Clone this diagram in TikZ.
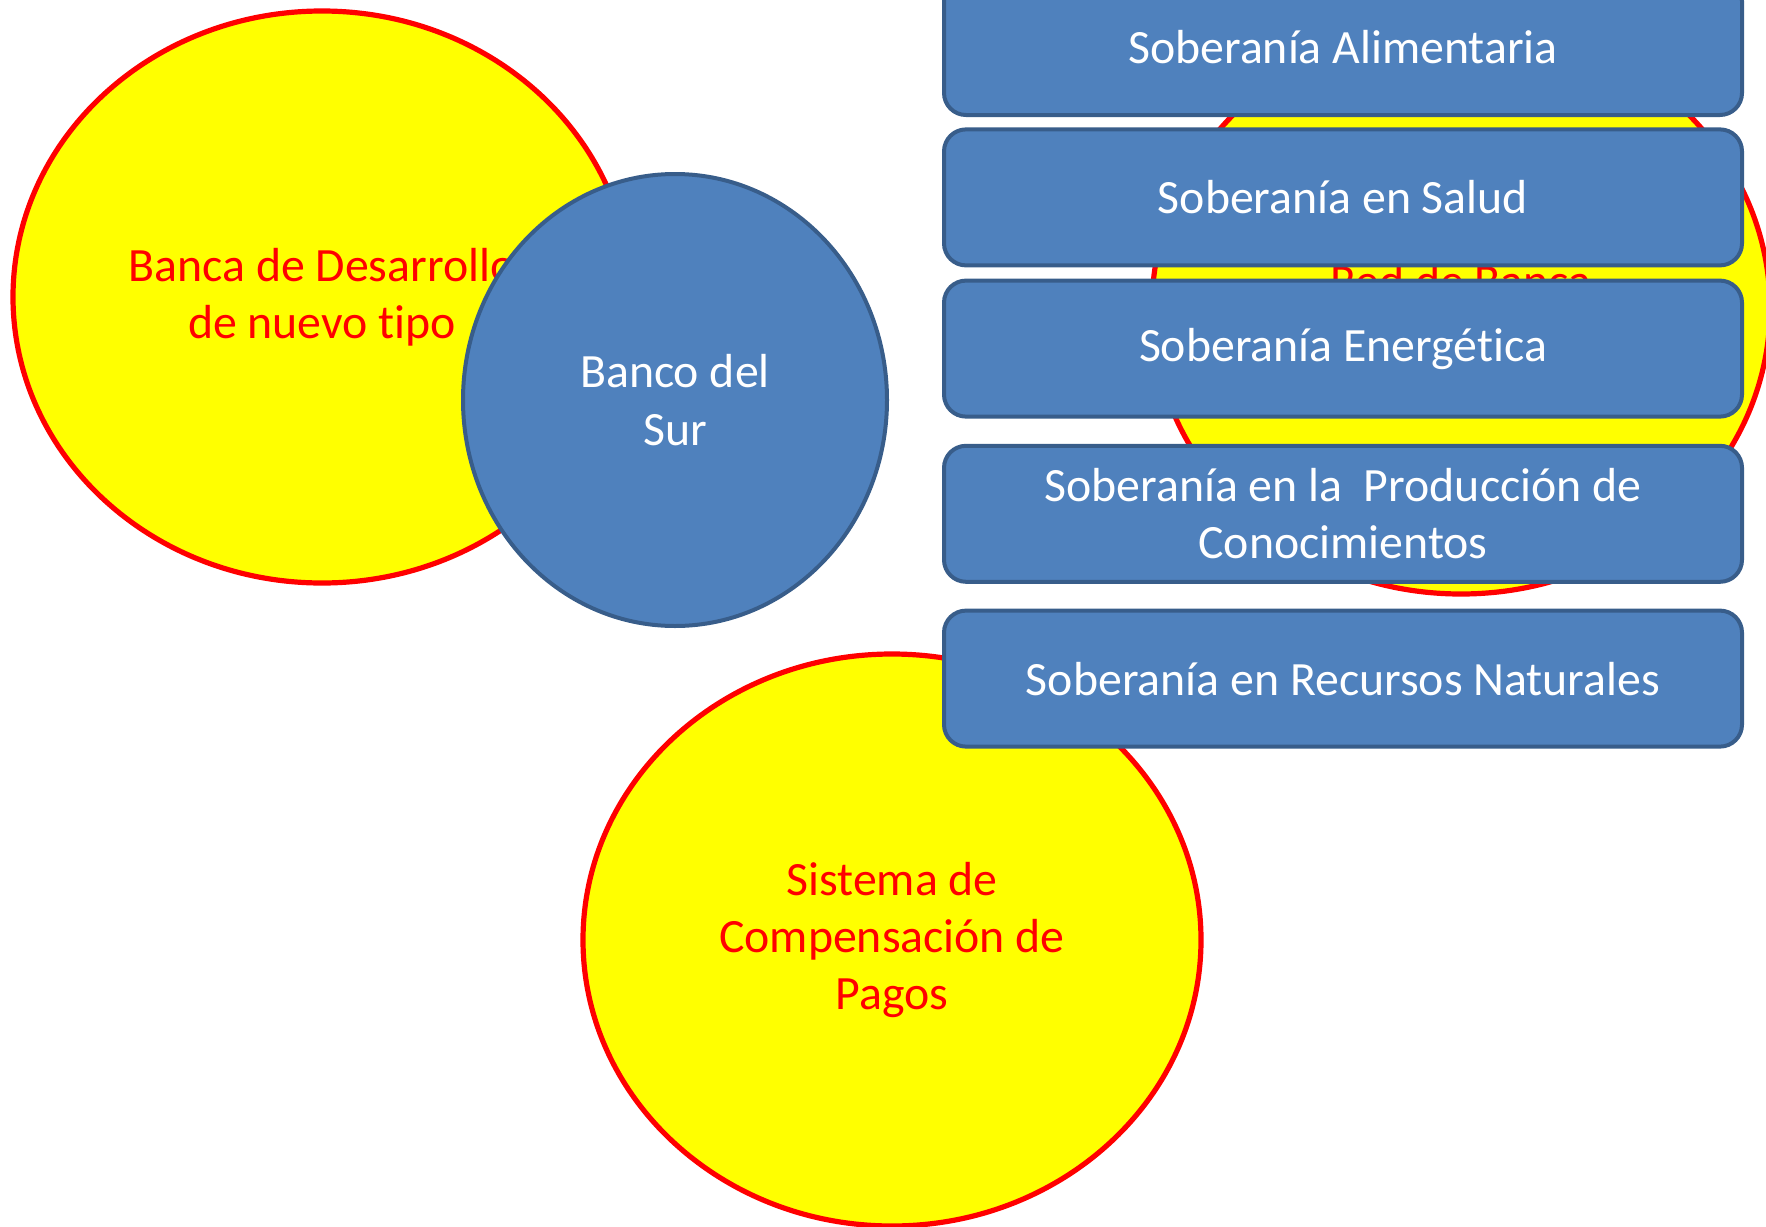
\documentclass[tikz,border=0pt]{standalone}
\usepackage{fontspec}
\setmainfont{Carlito}[Ligatures=CommonOff]
\usetikzlibrary{shapes.geometric,positioning}

\definecolor{boxblue}{HTML}{4F81BD}
\definecolor{boxedge}{HTML}{385D8A}
\definecolor{discyellow}{HTML}{FFFF00}
\definecolor{discred}{HTML}{FF0000}

\begin{document}
\begin{tikzpicture}[x=0.5pt,y=-0.5pt,
    every node/.style={font=\fontsize{23.9}{28.6}\selectfont, align=center},
    yellowdisc/.style={ellipse, draw=discred, fill=discyellow, line width=2.6pt,
      minimum width=309pt, minimum height=286pt, text=discred, inner sep=0pt},
    bluedisc/.style={ellipse, draw=boxedge, fill=boxblue, line width=2pt,
      minimum width=212pt, minimum height=226pt, text=white, inner sep=0pt},
    sobbox/.style={rectangle, rounded corners=11pt, draw=boxedge, fill=boxblue,
      line width=2pt, minimum width=399pt, minimum height=68pt, text=white, inner sep=0pt}]
  \clip (0,0) rectangle (1766,1226);
  % los tres bancos
  \node[yellowdisc] (desarrollo) at (322,297) {Banca de Desarrollo\\de nuevo tipo};
  \node[bluedisc] (bancosur) at (675,400) {Banco del\\Sur};
  \node[yellowdisc] (compensacion) at (892,940) {Sistema de\\Compensación de\\Pagos};
  \node[yellowdisc] (redbanca) at (1461,308) {};
  \node[text=discred] (redtxt) at (1461,281) {Red de Banca};
  % soberanias
  \node[sobbox] (alimentaria) at (1343,47) {Soberanía Alimentaria};
  \node[sobbox, below=5.2pt of alimentaria] (salud) {Soberanía en Salud};
  \node[sobbox, below=5.6pt of salud] (energetica) {Soberanía Energética};
  \node[sobbox, below=12.6pt of energetica] (conocimientos) {Soberanía en la\ \ Producción de\\Conocimientos};
  \node[sobbox, below=12.4pt of conocimientos] (recursos) {Soberanía en Recursos Naturales};
\end{tikzpicture}
\end{document}
